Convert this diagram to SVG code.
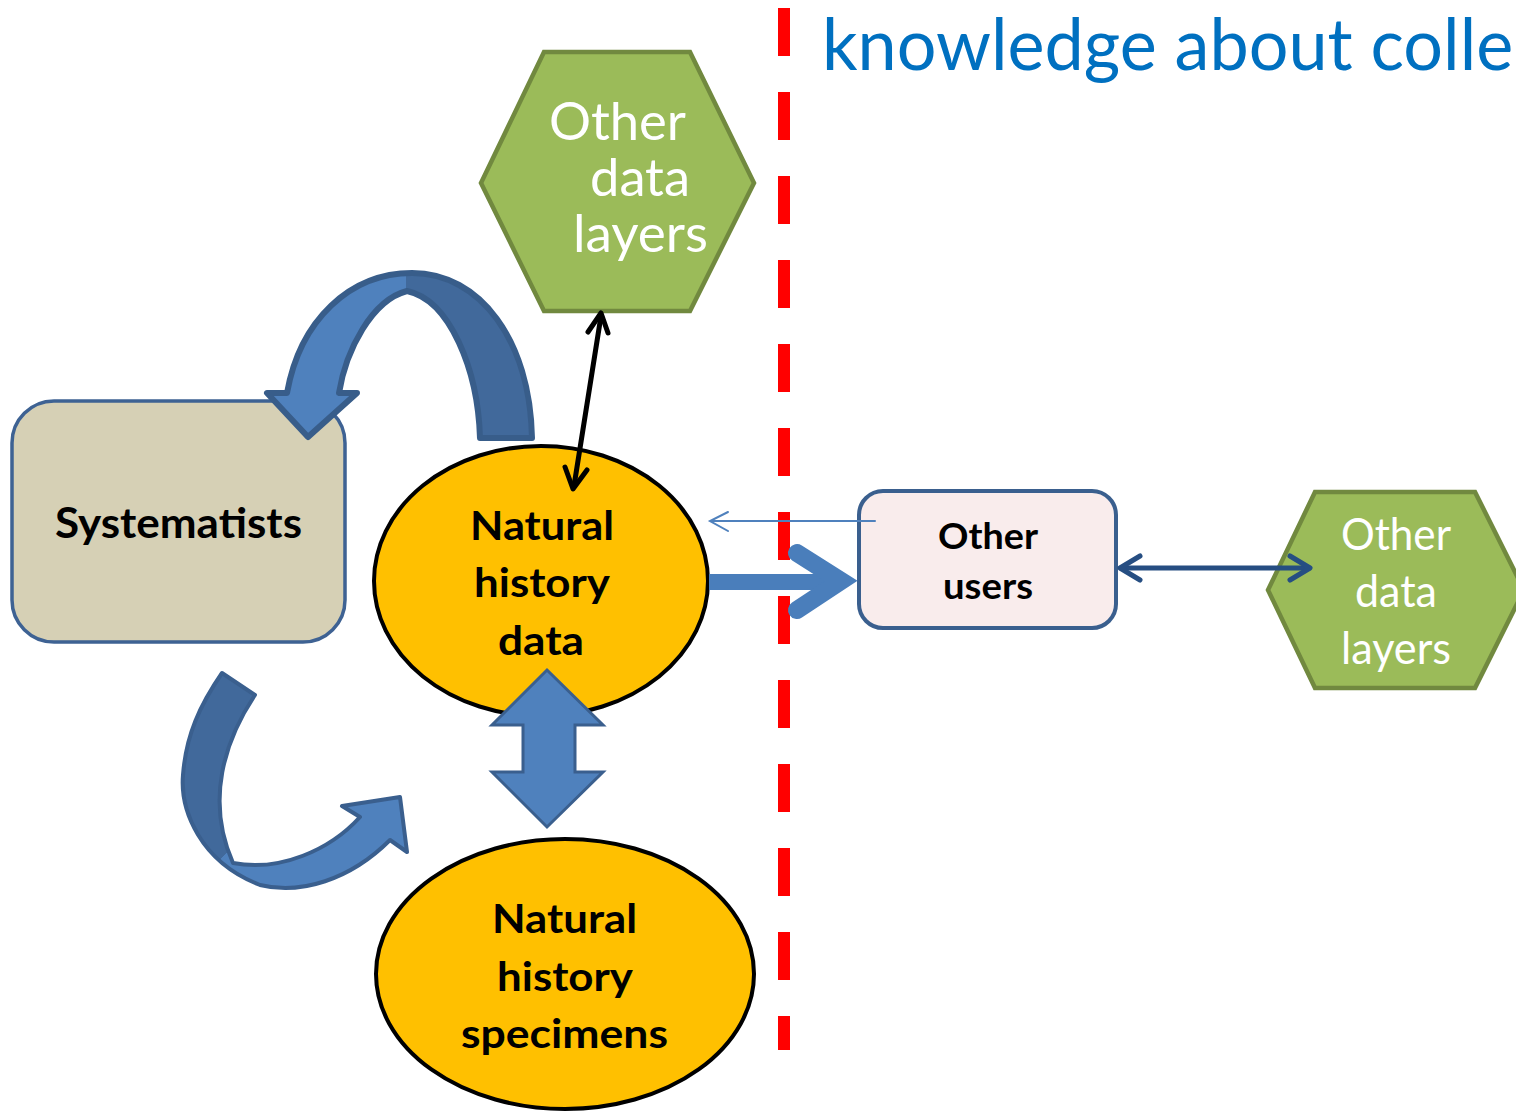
<svg xmlns="http://www.w3.org/2000/svg" width="1516" height="1112" viewBox="0 0 1516 1112">
<style>
.hex{fill:#9BBB59;stroke:#71893F;stroke-width:4.5;stroke-linejoin:miter}
.ell{fill:#FFC000;stroke:#000;stroke-width:4}
.w{font-family:Lato,"Open Sans",sans-serif;fill:#fff}
.b{font-family:Lato,"Open Sans",sans-serif;font-weight:bold;fill:#000}
.blk{fill:#4F81BD;stroke:#3A5F8E;stroke-width:3}
</style>
<defs>
<linearGradient id="gTop" gradientUnits="userSpaceOnUse" x1="260" y1="0" x2="540" y2="0">
<stop offset="0" stop-color="#4F81BD"/><stop offset="0.52" stop-color="#4F81BD"/><stop offset="0.52" stop-color="#41699B"/><stop offset="1" stop-color="#41699B"/>
</linearGradient>
<linearGradient id="gBot" gradientUnits="userSpaceOnUse" x1="200" y1="820" x2="260" y2="880">
<stop offset="0" stop-color="#41699B"/><stop offset="0.5" stop-color="#41699B"/><stop offset="0.5" stop-color="#4F81BD"/><stop offset="1" stop-color="#4F81BD"/>
</linearGradient>
</defs>
<rect width="1516" height="1112" fill="#fff"/>

<line x1="784" y1="8" x2="784" y2="1050" stroke="#FF0000" stroke-width="12" stroke-dasharray="48 36"/>

<text x="822" y="70" font-family="Lato,'Open Sans',sans-serif" font-size="72" fill="#0070C0" textLength="877" lengthAdjust="spacingAndGlyphs">knowledge about collections</text>

<g id="hex-top">
<polygon class="hex" points="481,183 544,52 690,52 754,183 690,311 544,311"/>
<text class="w" font-size="52" x="549" y="140" textLength="137" lengthAdjust="spacingAndGlyphs">Other</text>
<text class="w" font-size="52" x="590" y="196" textLength="100" lengthAdjust="spacingAndGlyphs">data</text>
<text class="w" font-size="52" x="573" y="252" textLength="135" lengthAdjust="spacingAndGlyphs">layers</text>
</g>

<g id="hex-right">
<polygon class="hex" points="1268,590 1315,492 1475,492 1524,590 1475,688 1315,688"/>
<text class="w" font-size="45" x="1341" y="550" textLength="110" lengthAdjust="spacingAndGlyphs">Other</text>
<text class="w" font-size="45" x="1355" y="607" textLength="82" lengthAdjust="spacingAndGlyphs">data</text>
<text class="w" font-size="45" x="1341" y="664" textLength="110" lengthAdjust="spacingAndGlyphs">layers</text>
</g>

<g id="systematists">
<rect x="12" y="401" width="333" height="241" rx="42" fill="#D6D0B5" stroke="#3E6293" stroke-width="3.5"/>
<text class="b" font-size="42" x="55" y="538" textLength="247" lengthAdjust="spacingAndGlyphs">Systematists</text>
</g>

<g id="nh-data">
<ellipse class="ell" cx="541" cy="581" rx="167" ry="135"/>
<text class="b" font-size="41" x="470" y="540" textLength="144" lengthAdjust="spacingAndGlyphs">Natural</text>
<text class="b" font-size="41" x="474" y="597" textLength="136" lengthAdjust="spacingAndGlyphs">history</text>
<text class="b" font-size="41" x="498" y="655" textLength="86" lengthAdjust="spacingAndGlyphs">data</text>
</g>

<g id="nh-specimens">
<ellipse class="ell" cx="565" cy="974" rx="189" ry="135"/>
<text class="b" font-size="41" x="492" y="933" textLength="145" lengthAdjust="spacingAndGlyphs">Natural</text>
<text class="b" font-size="41" x="497" y="991" textLength="136" lengthAdjust="spacingAndGlyphs">history</text>
<text class="b" font-size="41" x="461" y="1048" textLength="207" lengthAdjust="spacingAndGlyphs">specimens</text>
</g>

<g id="other-users">
<rect x="859" y="491" width="257" height="137" rx="24" fill="#F9ECEC" stroke="#3A5F8E" stroke-width="4"/>
<text class="b" font-size="37" x="938" y="549" textLength="100" lengthAdjust="spacingAndGlyphs">Other</text>
<text class="b" font-size="37" x="943" y="599" textLength="90" lengthAdjust="spacingAndGlyphs">users</text>
</g>

<g id="connectors">
<path d="M480 438 C478 370 450 300 407 291 C372 300 346 350 339 393 L357 393 L308 437 L267 393 L287 393 C300 320 350 273 412 273 C480 273 530 340 532 438 Z" fill="url(#gTop)" stroke="#385D8A" stroke-width="6" stroke-linejoin="round"/>
<path d="M222 673 L255 695 C225 740 205 800 233 863 C280 872 330 850 360 817 L342 806 L400 797 L407 852 L390 840 C350 880 300 895 260 885 C200 862 180 810 183 775 C186 735 200 705 222 673 Z" fill="url(#gBot)" stroke="#3A5F8E" stroke-width="4" stroke-linejoin="round"/>
<polygon class="blk" points="547,670 603,725 575,725 575,772 603,772 547,827 492,772 523,772 523,725 492,725"/>
<g stroke="#000" stroke-width="5" fill="none" stroke-linecap="round" stroke-linejoin="round">
<line x1="601" y1="316" x2="574" y2="486"/>
<polyline points="588,332 601,313 608,333"/>
<polyline points="565,467 573,489 587,470"/>
</g>
<g stroke="#4F81BD" stroke-width="2" fill="none" stroke-linecap="round">
<line x1="875" y1="521" x2="711" y2="521"/>
<polyline points="728,512 710,521 728,531"/>
</g>
<g stroke="#4A7EBB" fill="none">
<line x1="709" y1="582" x2="842" y2="582" stroke-width="16"/>
<polyline points="797,553 841,581 797,610" stroke-width="18" stroke-linecap="round" stroke-linejoin="miter" stroke-miterlimit="10"/>
</g>
<g stroke="#264E82" stroke-width="5" fill="none" stroke-linecap="round" stroke-linejoin="round">
<line x1="1121" y1="568" x2="1309" y2="568"/>
<polyline points="1140,556 1120,568 1140,580"/>
<polyline points="1290,556 1310,568 1290,580"/>
</g>
</g>
</svg>
